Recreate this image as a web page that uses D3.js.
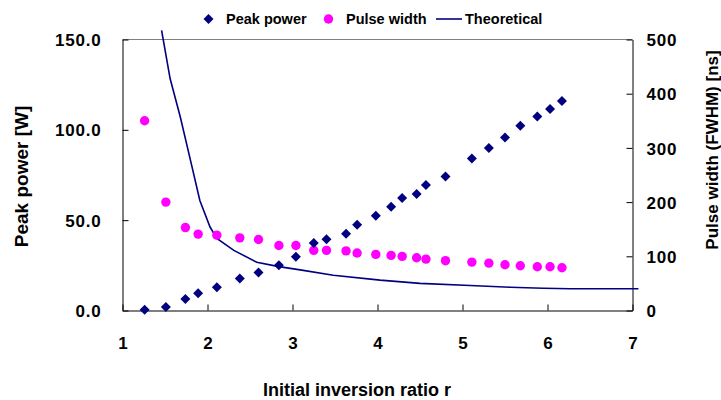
<!DOCTYPE html>
<html>
<head>
<meta charset="utf-8">
<script src="https://cdn.jsdelivr.net/npm/d3@7"></script>
<style>
  body { margin: 0; background: #fff; }
  text { font-family: Arial, "Liberation Sans", sans-serif; font-weight: bold; }
</style>
</head>
<body>
<svg id="chart" width="721" height="400"></svg>
<script>
// measured points, both series share the same r values
const ratio = [1.26, 1.51, 1.74, 1.89, 2.11, 2.38, 2.60, 2.84, 3.04, 3.25, 3.40, 3.63, 3.76,
  3.98, 4.16, 4.29, 4.46, 4.57, 4.80, 5.11, 5.31, 5.50, 5.68, 5.88, 6.03, 6.17];
const peakPower = [0.4, 2.0, 6.3, 9.6, 12.9, 17.7, 21.1, 25.1, 29.8, 37.3, 39.4, 42.5, 47.5,
  52.5, 57.4, 62.3, 64.5, 69.5, 74.2, 84.1, 90.0, 95.8, 102.2, 107.4, 111.6, 115.9];
const pulseWidth = [350, 200, 153, 141, 139, 134, 131, 120, 120, 111, 111, 110, 106,
  103.5, 101.7, 99.8, 97.4, 94.8, 91.9, 89.3, 87.4, 84.5, 82.6, 80.8, 80.8, 78.9];

// theoretical pulse width curve (right axis)
const theoryRatio = [1.46, 1.56, 1.68, 1.80, 1.91, 2.03, 2.11, 2.31, 2.58, 2.84, 3.09, 3.48,
  4.03, 4.50, 5.09, 5.56, 5.95, 6.27, 6.60, 7.07];
const theoryWidth = [517, 428, 357, 277, 203, 154, 133, 111, 89, 81, 75, 65,
  56, 50, 46, 43, 41, 40, 40, 40];

const xTicks = [1, 2, 3, 4, 5, 6, 7];
const leftTicks = [0, 50, 100, 150];
const rightTicks = [0, 100, 200, 300, 400, 500];

const plotLeft = 122.5, plotRight = 632.5, plotTop = 39.5, plotBottom = 310.5;
const navy = "#000080", pink = "#ff00ff";

const svg = d3.select("#chart");

const x = d3.scaleLinear().domain([1, 7]).range([plotLeft, plotRight]);
const yL = d3.scaleLinear().domain([0, 150]).range([plotBottom, plotTop]);
const yR = d3.scaleLinear().domain([0, 500]).range([plotBottom, plotTop]);

// top border of the plot area
svg.append("line")
  .attr("x1", plotLeft).attr("x2", plotRight)
  .attr("y1", plotTop).attr("y2", plotTop)
  .attr("stroke", "#808080");

function styleAxis(g, size) {
  g.select(".domain").attr("stroke", "#000");
  g.selectAll(".tick line").attr("stroke", "#000");
  g.selectAll(".tick text")
    .attr("fill", "#000")
    .style("font-size", size + "px")
    .style("font-family", "Arial, 'Liberation Sans', sans-serif")
    .style("font-weight", "bold");
}

svg.append("g")
  .attr("transform", `translate(0,${plotBottom})`)
  .call(d3.axisBottom(x).tickValues(xTicks).tickFormat(d3.format("d"))
    .tickSizeInner(-6).tickSizeOuter(0).tickPadding(26))
  .call(g => styleAxis(g, 17));

svg.append("g")
  .attr("transform", `translate(${plotLeft},0)`)
  .call(d3.axisLeft(yL).tickValues(leftTicks).tickFormat(d3.format(".1f"))
    .tickSizeInner(-6).tickSizeOuter(0).tickPadding(21))
  .call(g => styleAxis(g, 17))
  .call(g => g.selectAll(".tick text").attr("dy", "0.36em").attr("letter-spacing", 0.8));

svg.append("g")
  .attr("transform", `translate(${plotRight},0)`)
  .call(d3.axisRight(yR).tickValues(rightTicks).tickFormat(d3.format("d"))
    .tickSizeInner(-6).tickSizeOuter(0).tickPadding(14))
  .call(g => styleAxis(g, 17))
  .call(g => g.selectAll(".tick text").attr("dy", "0.36em").attr("letter-spacing", 0.8));

// axis titles
svg.append("text")
  .attr("transform", `translate(28,${(103 + 250) / 2}) rotate(-90)`)
  .attr("text-anchor", "middle")
  .style("font-size", "19px")
  .text("Peak power [W]");

svg.append("text")
  .attr("transform", `translate(718,${(53 + 247) / 2}) rotate(-90)`)
  .attr("text-anchor", "middle")
  .style("font-size", "17px")
  .text("Pulse width (FWHM) [ns]");

svg.append("text")
  .attr("x", 357).attr("y", 396)
  .attr("text-anchor", "middle")
  .style("font-size", "18px")
  .text("Initial inversion ratio r");

// theoretical line
const line = d3.line()
  .x(d => x(d[0]))
  .y(d => yR(d[1]));

svg.append("path")
  .datum(theoryRatio.map((r, i) => [r, theoryWidth[i]]))
  .attr("d", line)
  .attr("fill", "none")
  .attr("stroke", navy)
  .attr("stroke-width", 1.6);

// pulse width circles
svg.selectAll(".pw")
  .data(ratio.map((r, i) => [r, pulseWidth[i]]))
  .enter()
  .append("circle")
  .attr("class", "pw")
  .attr("cx", d => x(d[0]))
  .attr("cy", d => yR(d[1]))
  .attr("r", 4.7)
  .attr("fill", pink);

// peak power diamonds
const diamond = d3.symbol().type(d3.symbolSquare).size(50);
svg.selectAll(".pp")
  .data(ratio.map((r, i) => [r, peakPower[i]]))
  .enter()
  .append("path")
  .attr("class", "pp")
  .attr("d", diamond)
  .attr("transform", d => `translate(${x(d[0])},${yL(d[1])}) rotate(45)`)
  .attr("fill", navy);

// legend
const legend = svg.append("g").style("font-size", "14.5px");
legend.append("path")
  .attr("d", diamond)
  .attr("transform", "translate(208.5,19) rotate(45)")
  .attr("fill", navy);
legend.append("text").attr("x", 226).attr("y", 24).text("Peak power");
legend.append("circle").attr("cx", 328.5).attr("cy", 19).attr("r", 4.7).attr("fill", pink);
legend.append("text").attr("x", 346).attr("y", 24).text("Pulse width");
legend.append("line")
  .attr("x1", 436).attr("x2", 462).attr("y1", 19).attr("y2", 19)
  .attr("stroke", navy).attr("stroke-width", 1.6);
legend.append("text").attr("x", 465).attr("y", 24).text("Theoretical");
</script>
</body>
</html>
